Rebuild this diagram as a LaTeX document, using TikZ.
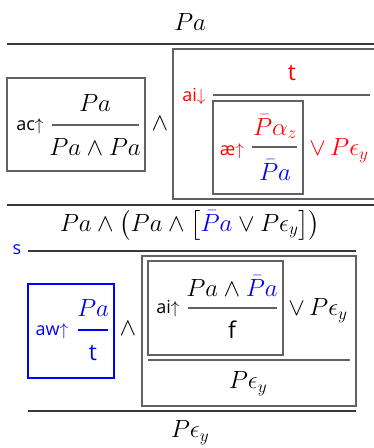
\documentclass[tikz,border=0pt]{standalone}
\usepackage{fontspec}
\setsansfont{Open Sans}
\usepackage{amsmath}
\definecolor{rulec}{gray}{0.22}
\definecolor{boxc}{gray}{0.38}
\tikzset{
  mt/.style={inner sep=0pt, font=\fontsize{26}{30}\selectfont},
  sanst/.style={inner sep=0pt, font=\fontsize{23}{28}\selectfont\sffamily},
  lbl/.style={inner sep=0pt, font=\fontsize{18}{22}\selectfont\sffamily},
  rulel/.style={draw=rulec, line width=1.3pt},
  fracl/.style={draw=boxc, line width=1.3pt},
  boxl/.style={draw=boxc, line width=1.2pt},
}
\begin{document}
\begin{tikzpicture}[x=1pt,y=-1pt]
\useasboundingbox (0,0) rectangle (373,448);
% ---------- top part ----------
\node[mt] (top) at (190,22) {$Pa$};
\coordinate (r1a) at (7,44); \coordinate (r1b) at (390,44);
\draw[rulel] (r1a) -- (r1b);
% ac box
\draw[boxl] (7,78) rectangle (145,171);
\node[lbl] (aclab) at (30,126) {ac$\uparrow$};
\coordinate (acla) at (52,125); \coordinate (aclb) at (139,125);
\draw[fracl] (acla) -- (aclb);
\node[mt] (acnum) at (95,103) {$Pa$};
\node[mt] (acden) at (95,147) {$Pa \wedge Pa$};
\node[mt] (wedge1) at (160,124) {$\wedge$};
% big red box
\draw[boxl] (173,49) rectangle (390,199);
\node[lbl, text=red] (ailab) at (194,97) {ai$\downarrow$};
\coordinate (aila) at (213,95); \coordinate (ailb) at (370,95);
\draw[fracl] (aila) -- (ailb);
\node[sanst, text=red] (tnum) at (292,73) {t};
% ae box
\draw[boxl] (213,101) rectangle (303,194);
\node[lbl, text=red] (aelab) at (232,151) {æ$\uparrow$};
\coordinate (aela) at (252,147); \coordinate (aelb) at (297,147);
\draw[fracl] (aela) -- (aelb);
\node[mt, text=red] (aenum) at (275,127) {$\bar{P}\alpha_z$};
\node[mt, text=blue] (aeden) at (275,170) {$\bar{P}a$};
\node[mt, text=red] (veps1) at (339,151) {$\vee\, P\epsilon_y$};
% ---------- middle ----------
\coordinate (r2a) at (7,205); \coordinate (r2b) at (390,205);
\draw[rulel] (r2a) -- (r2b);
\node[mt] (concl) at (190,225) {$Pa \wedge \bigl(Pa \wedge \bigl[\textcolor{blue}{\bar{P}a} \vee P\epsilon_y\bigr]\bigr)$};
\node[lbl, text=blue] (slab) at (17,250) {s};
\coordinate (r3a) at (28,251); \coordinate (r3b) at (356,251);
\draw[rulel] (r3a) -- (r3b);
% aw box
\draw[boxl, draw=blue] (28,284) rectangle (114,378);
\node[lbl, text=blue] (awlab) at (52,331) {aw$\uparrow$};
\coordinate (awla) at (78,330); \coordinate (awlb) at (108,330);
\draw[fracl, draw=blue] (awla) -- (awlb);
\node[mt, text=blue] (awnum) at (93,308) {$Pa$};
\node[sanst, text=blue] (awden) at (93,353) {t};
\node[mt] (wedge2) at (128,329) {$\wedge$};
% big box bottom
\draw[boxl] (142,256) rectangle (356,406);
\draw[boxl] (148,261) rectangle (283,355);
\node[lbl] (ailab2) at (168,309) {ai$\uparrow$};
\coordinate (ai2a) at (188,308); \coordinate (ai2b) at (277,308);
\draw[fracl] (ai2a) -- (ai2b);
\node[mt] (ai2num) at (232,286) {$Pa \wedge \textcolor{blue}{\bar{P}a}$};
\node[sanst] (ai2den) at (232,330) {f};
\node[mt] (veps2) at (318,311) {$\vee\, P\epsilon_y$};
\coordinate (l5a) at (148,360); \coordinate (l5b) at (350,360);
\draw[fracl] (l5a) -- (l5b);
\node[mt] (eps3) at (248,384) {$P\epsilon_y$};
\coordinate (r4a) at (28,411); \coordinate (r4b) at (356,411);
\draw[rulel] (r4a) -- (r4b);
\node[mt] (eps4) at (190,433) {$P\epsilon_y$};
\end{tikzpicture}
\end{document}
